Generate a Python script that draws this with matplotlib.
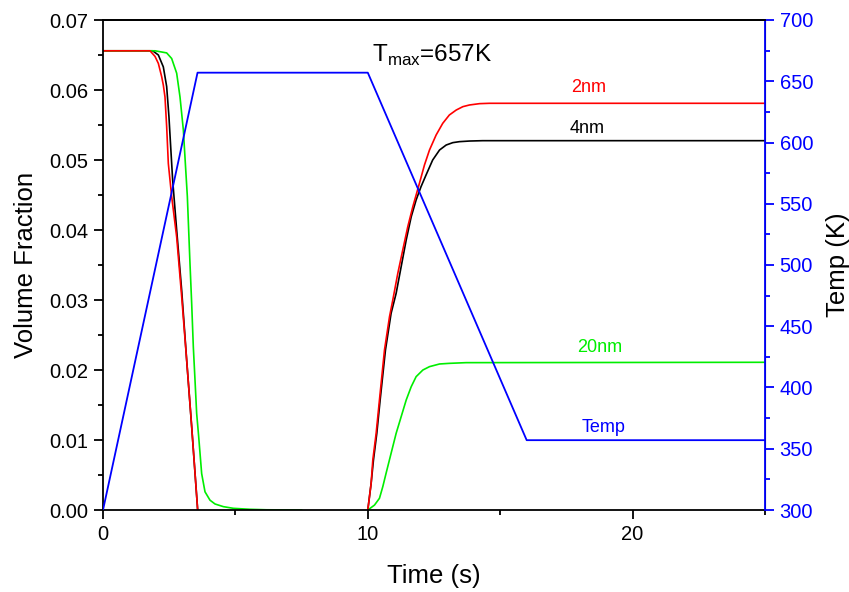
import matplotlib
matplotlib.use("Agg")
import matplotlib.pyplot as plt
import numpy as np

plt.rcParams['font.family'] = ['Liberation Sans', 'DejaVu Sans']
plt.rcParams['mathtext.fontset'] = 'custom'
plt.rcParams['mathtext.rm'] = 'Liberation Sans'

# ---- data ----
# heating: decay of volume fraction
t_red_drop = [0, 1.5, 1.775, 1.964, 2.09, 2.216, 2.278, 2.341, 2.404, 2.467, 2.593, 2.782, 2.971, 3.16, 3.349, 3.575]
v_red_drop = [0.0656, 0.0656, 0.0656, 0.0648, 0.0638, 0.0619, 0.0607, 0.0590, 0.0548, 0.0495, 0.0448, 0.0390,
              0.0305, 0.0214, 0.0119, 0.0]

t_blk_drop = [0, 1.5, 1.876, 2.09, 2.278, 2.404, 2.49, 2.556, 2.631, 2.782, 2.971, 3.16, 3.349, 3.575]
v_blk_drop = [0.0656, 0.0656, 0.0656, 0.0650, 0.0633, 0.0605, 0.0562, 0.0519, 0.0471, 0.0400, 0.0314, 0.0214,
              0.0119, 0.0]

t_grn_drop = [0, 1.964, 2.404, 2.593, 2.782, 2.908, 3.034, 3.11, 3.185, 3.235, 3.285, 3.349, 3.411, 3.474,
              3.537, 3.613, 3.726, 3.852, 4.041, 4.23, 4.544, 4.922, 5.551, 6.18, 7.5]
v_grn_drop = [0.0656, 0.0656, 0.0653, 0.0645, 0.0624, 0.0590, 0.0543, 0.0495, 0.0448, 0.0400, 0.0352, 0.0295,
              0.0233, 0.0186, 0.0138, 0.0105, 0.0052, 0.0026, 0.0014, 0.00086, 0.00048, 0.00024, 0.0001,
              0.00003, 0.0]

# cooling: recovery of volume fraction
t_red_rec = [10.0, 10.126, 10.189, 10.315, 10.44, 10.63, 10.82, 10.944, 11.133, 11.32, 11.51, 11.70, 11.825,
             11.95, 12.14, 12.33, 12.58, 12.83, 13.08, 13.34, 13.59, 13.84, 14.22, 14.59, 25.0]
v_red_rec = [0.0, 0.00381, 0.00714, 0.01095, 0.01571, 0.02286, 0.02762, 0.0300, 0.03381, 0.03714, 0.04048,
             0.04333, 0.0450, 0.04667, 0.04929, 0.05143, 0.05357, 0.05524, 0.05643, 0.05714, 0.05762, 0.05786,
             0.05805, 0.0581, 0.0581]

t_blk_rec = [10.0, 10.126, 10.214, 10.34, 10.466, 10.667, 10.88, 11.07, 11.26, 11.45, 11.64, 11.825, 12.01,
             12.20, 12.45, 12.71, 12.96, 13.21, 13.46, 13.84, 14.34, 25.0]
v_blk_rec = [0.0, 0.00381, 0.00714, 0.01095, 0.01571, 0.02286, 0.0281, 0.03095, 0.03476, 0.03857, 0.0419,
             0.04429, 0.04619, 0.04786, 0.0500, 0.05143, 0.05214, 0.05248, 0.05262, 0.05271, 0.05276, 0.05276]

t_grn_rec = [10.0, 10.252, 10.44, 10.566, 10.69, 10.88, 11.07, 11.26, 11.45, 11.64, 11.825, 12.08, 12.33,
             12.71, 13.08, 13.71, 25.0]
v_grn_rec = [0.0, 0.0007, 0.00167, 0.00333, 0.00524, 0.0081, 0.01095, 0.01333, 0.01571, 0.01762, 0.01905,
             0.0200, 0.02048, 0.02086, 0.02095, 0.02105, 0.0211]

t_temp = [0, 3.57, 10.0, 16.0, 25.0]
temp = [300, 657, 657, 357, 357]

labels = ["2nm", "4nm", "20nm", "Temp"]
tmax_text = r"T$_{\mathregular{max}}$=657K"

# ---- figure ----
fig = plt.figure(figsize=(8.49, 5.92), dpi=100)
ax = fig.add_axes([103/849, 82/592, (765-103)/849, (510-20)/592])
ax2 = ax.twinx()

GREEN = '#00ee00'
lw = 1.2
ax.plot(t_blk_drop, v_blk_drop, color='black', lw=lw)
ax.plot(t_grn_drop, v_grn_drop, color=GREEN, lw=lw)
ax.plot(t_red_drop, v_red_drop, color='red', lw=lw)
ax.plot(t_blk_rec, v_blk_rec, color='black', lw=lw)
ax.plot(t_grn_rec, v_grn_rec, color=GREEN, lw=lw)
ax.plot(t_red_rec, v_red_rec, color='red', lw=lw)

ax2.plot(t_temp, temp, color='#0000ff', lw=1.3)

ax.set_xlim(0, 25)
ax.set_ylim(0, 0.07)
ax2.set_ylim(300, 700)

ax.set_xticks([0, 10, 20])
ax.set_xticks([5, 15, 25], minor=True)
yt = np.arange(0, 0.0701, 0.01)
ax.set_yticks(yt)
ax.set_yticklabels([f"{v:.2f}" for v in yt])
ax.set_yticks(np.arange(0.005, 0.07, 0.01), minor=True)
ax2.set_yticks(np.arange(300, 701, 50))
ax2.set_yticks(np.arange(325, 700, 50), minor=True)

for a in (ax, ax2):
    a.tick_params(axis='both', which='major', length=6.5, width=1.3, labelsize=14.5, direction='out', pad=4)
    a.tick_params(axis='both', which='minor', length=3.5, width=1.3, direction='out')
ax.tick_params(top=False, which='both')
ax2.tick_params(axis='y', which='both', colors='#0000ff', labelcolor='#0000ff')

for s in ['left', 'bottom', 'top']:
    ax.spines[s].set_linewidth(1.3)
ax2.spines['right'].set_color('#0000ff')
ax2.spines['right'].set_linewidth(1.3)
ax2.spines['left'].set_visible(False)
ax2.spines['top'].set_linewidth(1.3)
ax2.spines['bottom'].set_visible(False)

ax.set_xlabel("Time (s)", fontsize=18.5, labelpad=15)
ax.set_ylabel("Volume Fraction", fontsize=18.5, labelpad=8)
ax2.set_ylabel("Temp (K)", fontsize=18.5, labelpad=9)

ax.text(18.34, 0.0597, labels[0], color='red', fontsize=13, ha='center', va='baseline')
ax.text(18.28, 0.0539, labels[1], color='black', fontsize=13, ha='center', va='baseline')
ax.text(18.75, 0.0226, labels[2], color=GREEN, fontsize=13, ha='center', va='baseline')
ax.text(18.91, 0.0112, labels[3], color='#0000ff', fontsize=13, ha='center', va='baseline')
ax.text(10.16, 0.0640, tmax_text, fontsize=17.5, ha='left', va='baseline')

fig.savefig("out.png", dpi=100)
